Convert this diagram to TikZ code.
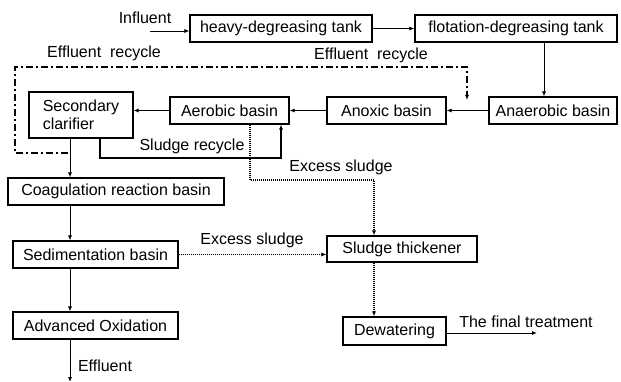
\documentclass[tikz,border=0pt]{standalone}
\usepackage{fontspec}
\setmainfont{Liberation Sans}
\usetikzlibrary{arrows.meta, positioning, calc}

\tikzset{
    box/.style={draw, line width=1.1pt, minimum height=27pt, inner sep=2pt, align=center},
    lbl/.style={inner sep=1pt},
    flow/.style={-{Latex[length=5pt,width=4pt]}, line width=0.9pt},
    dotflow/.style={-{Latex[length=5pt,width=4pt]}, line width=1.1pt, dash pattern=on 1pt off 1pt},
    recycle/.style={-{Latex[length=5pt,width=4pt]}, line width=1.4pt, dash pattern=on 7pt off 3pt on 2pt off 3pt}
}

\begin{document}
\begin{tikzpicture}[x=1pt, y=-1pt, font=\fontsize{16}{18}\selectfont]
            \useasboundingbox[fill=white] (0,0) rectangle (621,382);

            % Pretreatment
            \node[box, minimum width=182pt] at (281,28.5) (heavy) {heavy-degreasing tank};
            \node[box, minimum width=202pt] at (516,28.5) (flotation) {flotation-degreasing tank};

            % Biological line
            \node[box, minimum width=128pt] at (553,110.5) (anaerobic) {Anaerobic basin};
            \node[box, minimum width=119pt] at (386.5,110.5) (anoxic) {Anoxic basin};
            \node[box, minimum width=119pt] at (229.5,110.5) (aerobic) {Aerobic basin};
            \node[box, minimum width=104pt, minimum height=46pt, align=left] at (81,115) (clarifier) {Secondary\\clarifier};

            % Advanced treatment
            \node[box, minimum width=216pt] at (116,191.5) (coagulation) {Coagulation reaction basin};
            \node[box, minimum width=165pt] at (95.5,254.5) (sedimentation) {Sedimentation basin};
            \node[box, minimum width=165pt] at (95.5,325.5) (oxidation) {Advanced Oxidation};

            % Sludge line
            \node[box, minimum width=150pt, minimum height=26pt] at (402,249) (thickener) {Sludge thickener};
            \node[box, minimum width=103pt, minimum height=28pt] at (394.5,331) (dewatering) {Dewatering};

            % Labels
            \node[lbl] at (145,18) (influent) {Influent};
            \node[lbl] at (104,53) (recyclelabA) {Effluent\ \ recycle};
            \node[lbl] at (371,55) (recyclelabB) {Effluent\ \ recycle};
            \node[lbl] at (192,146) (sludgerec) {Sludge recycle};
            \node[lbl] at (341,167) (excessA) {Excess sludge};
            \node[lbl] at (252,240) (excessB) {Excess sludge};
            \node[lbl] at (105,366) (effluent) {Effluent};
            \node[lbl] at (526,322) (final) {The final treatment};

            % Free ends and bends
            \coordinate (inflowstart) at (150,31);
            \coordinate (mainline) at (70,0);
            \coordinate (feedline) at (544,0);
            \coordinate (outflowend) at (70,382);
            \coordinate (finalend) at (537,333);
            \coordinate (recA) at (15,67);
            \coordinate (recB) at (467,67);
            \coordinate (recC) at (68,153);
            \coordinate (recD) at (467,100);
            \coordinate (sludgeA) at (100,158);
            \coordinate (sludgeB) at (281,158);
            \coordinate (excessC) at (250,180);
            \coordinate (excessD) at (374,180);

            % Main flow
            \draw[flow] (inflowstart) -- (inflowstart -| heavy.west);
            \draw[flow] (heavy) -- (flotation);
            \draw[flow] (flotation.south -| feedline) -- (anaerobic.north -| feedline);
            \draw[flow] (anaerobic) -- (anoxic);
            \draw[flow] (anoxic) -- (aerobic);
            \draw[flow] (aerobic.west) -- (aerobic.west -| clarifier.east);
            \draw[flow] (clarifier.south -| mainline) -- (coagulation.north -| mainline);
            \draw[flow] (coagulation.south -| mainline) -- (sedimentation.north -| mainline);
            \draw[flow] (sedimentation.south -| mainline) -- (oxidation.north -| mainline);
            \draw[flow] (oxidation.south -| outflowend) -- (outflowend);
            \draw[flow] (dewatering.east |- finalend) -- (finalend);

            % Recycles
            \draw[recycle] (recC) -| (recA) -- (recB) -- (recD);
            \draw[flow, line width=1.8pt] (clarifier.south -| sludgeA) -- (sludgeA) -- (sludgeB) -- (aerobic.south -| sludgeB);

            % Excess sludge
            \draw[dotflow] (aerobic.south -| excessC) -- (excessC) -- (excessD) -- (thickener.north -| excessD);
            \draw[dotflow] (sedimentation.east) -- (sedimentation.east -| thickener.west);
            \draw[dotflow] (thickener.south -| excessD) -- (dewatering.north -| excessD);
        \end{tikzpicture}
\end{document}
